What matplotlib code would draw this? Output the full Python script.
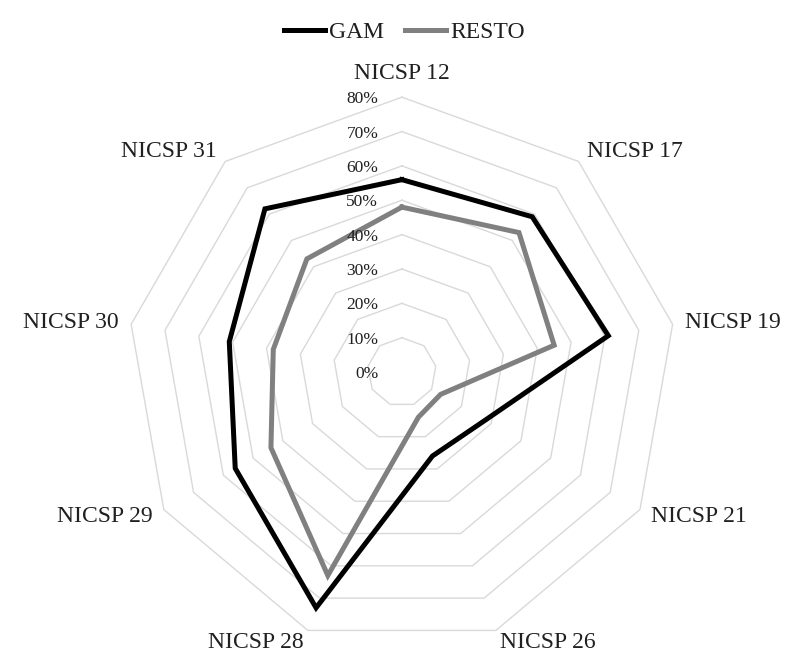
import numpy as np
import matplotlib.pyplot as plt

# categories clockwise from the top
categories = ['NICSP 12', 'NICSP 17', 'NICSP 19', 'NICSP 21', 'NICSP 26',
              'NICSP 28', 'NICSP 29', 'NICSP 30', 'NICSP 31']
gam = [0.56, 0.59, 0.61, 0.28, 0.26, 0.73, 0.56, 0.51, 0.62]
resto = [0.48, 0.53, 0.45, 0.13, 0.14, 0.63, 0.44, 0.38, 0.43]
rticks = [0.0, 0.1, 0.2, 0.3, 0.4, 0.5, 0.6, 0.7, 0.8]
rtick_labels = ['0%', '10%', '20%', '30%', '40%', '50%', '60%', '70%', '80%']

plt.rcParams['font.family'] = ['Liberation Serif', 'DejaVu Serif']
text_color = '#202020'

fig = plt.figure(figsize=(7.88, 6.53), dpi=100)
ax = fig.add_axes([0.161, 0.0092, 0.698, 0.842], projection='polar')
ax.set_theta_zero_location('N')
ax.set_theta_direction(-1)
ax.set_ylim(0, 0.8)
ax.grid(False)
ax.spines['polar'].set_visible(False)
ax.set_xticks([])
ax.set_yticks([])
ax.patch.set_alpha(0)

n = len(categories)
theta = np.arange(n) * 2 * np.pi / n
theta_closed = np.append(theta, theta[0])

# polygon gridlines
for r in rticks[1:]:
    ax.plot(theta_closed, [r] * (n + 1), color='#d9d9d9', lw=1.0, zorder=1,
            clip_on=False)

# series
ax.plot(theta_closed, gam + gam[:1], color='black', lw=3.6, label='GAM',
        zorder=3, solid_joinstyle='miter', clip_on=False)
ax.plot(theta_closed, resto + resto[:1], color='#808080', lw=3.6, label='RESTO',
        zorder=2, solid_joinstyle='miter', clip_on=False)

# radial tick labels along the top axis
for r, lab in zip(rticks, rtick_labels):
    ax.annotate(lab, xy=(0, r), xytext=(-17, -1.5), textcoords='offset points',
                ha='right', va='center', fontsize=12.5, color=text_color,
                zorder=4, annotation_clip=False)

# category labels
for t, lab in zip(theta, categories):
    s = np.sin(t)
    if abs(s) < 0.1:
        ha, va = 'center', 'bottom'
    elif s > 0:
        ha, va = 'left', 'center'
    else:
        ha, va = 'right', 'center'
    ax.text(t, 0.838, lab, ha=ha, va=va, fontsize=17, color=text_color)

fig.legend(loc='upper center', bbox_to_anchor=(0.513, 1.0), ncol=2,
           frameon=False, fontsize=17, handlelength=1.75, handletextpad=0.15,
           columnspacing=0.9, labelcolor=text_color)

fig.savefig('out.png', dpi=100, facecolor='white')
